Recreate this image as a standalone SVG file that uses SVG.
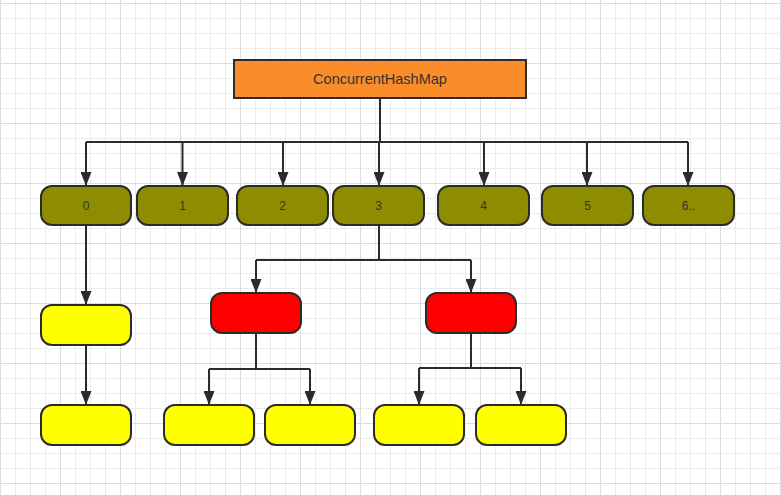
<svg xmlns="http://www.w3.org/2000/svg" width="781" height="495" viewBox="0 0 781 495">
<defs>
<pattern id="minor" width="15" height="15" patternUnits="userSpaceOnUse" x="0" y="3">
<path d="M0.5 0V15M0 0.5H15" stroke="#ebebeb" stroke-width="1" fill="none"/>
</pattern>
<pattern id="major" width="60" height="60" patternUnits="userSpaceOnUse" x="0" y="3">
<path d="M0.5 0V60M0 0.5H60" stroke="#dcdcdc" stroke-width="1" fill="none"/>
</pattern>
<marker id="arr" viewBox="0 0 14 11" refX="13" refY="5.5" markerWidth="14" markerHeight="11" markerUnits="userSpaceOnUse" orient="auto">
<path d="M0 0L14 5.5L0 11Z" fill="#2b2b2b"/>
</marker>
<style>
.n rect{stroke:#2b2b2b;stroke-width:2}
.olive rect{fill:#8e8c00}
.red rect{fill:#ff0000}
.yel rect{fill:#ffff00}
text{font-family:"Liberation Sans",Arial,sans-serif;font-size:12px;fill:#333;text-anchor:middle;dominant-baseline:central}
#connectors path{stroke:#2b2b2b;stroke-width:2;fill:none}
#connectors .a{marker-end:url(#arr)}
</style>
</defs>
<rect width="781" height="495" fill="#fff"/>
<rect width="781" height="495" fill="url(#minor)"/>
<rect width="781" height="495" fill="url(#major)"/>

<g id="connectors">
<path d="M380 98V142"/>
<path d="M86 142H688"/>
<path class="a" d="M86 142V185"/>
<path class="a" d="M182.5 142V185"/>
<path class="a" d="M283 142V185"/>
<path class="a" d="M379 142V185"/>
<path class="a" d="M484 142V185"/>
<path class="a" d="M587 142V185"/>
<path class="a" d="M688 142V185"/>
<path class="a" d="M86 225V304"/>
<path class="a" d="M86 345V404"/>
<path d="M379 225V260M256 260H471"/>
<path class="a" d="M256 260V292"/>
<path class="a" d="M471 260V292"/>
<path d="M256 333V369M209 369H310"/>
<path class="a" d="M209 369V404"/>
<path class="a" d="M310 369V404"/>
<path d="M471 333V368M419 368H521"/>
<path class="a" d="M419 368V404"/>
<path class="a" d="M521 368V404"/>
</g>

<g id="root" class="n"><rect x="234" y="60" width="292" height="38" fill="#fb8c2a"/><text x="380" y="79" style="font-size:14.5px">ConcurrentHashMap</text></g>

<g id="b0" class="n olive"><rect x="41" y="186" width="90" height="39" rx="11"/><text x="86" y="206">0</text></g>
<g id="b1" class="n olive"><rect x="137" y="186" width="91" height="39" rx="11"/><text x="182.5" y="206">1</text></g>
<g id="b2" class="n olive"><rect x="237" y="186" width="91" height="39" rx="11"/><text x="282.5" y="206">2</text></g>
<g id="b3" class="n olive"><rect x="333" y="186" width="91" height="39" rx="11"/><text x="378.5" y="206">3</text></g>
<g id="b4" class="n olive"><rect x="438" y="186" width="91" height="39" rx="11"/><text x="483.5" y="206">4</text></g>
<g id="b5" class="n olive"><rect x="542" y="186" width="91" height="39" rx="11"/><text x="587.5" y="206">5</text></g>
<g id="b6" class="n olive"><rect x="643" y="186" width="91" height="39" rx="11"/><text x="688.5" y="206">6..</text></g>

<g id="y0a" class="n yel"><rect x="41" y="305" width="90" height="40" rx="11"/></g>
<g id="y0b" class="n yel"><rect x="41" y="405" width="90" height="40" rx="11"/></g>

<g id="r1" class="n red"><rect x="211" y="293" width="90" height="40" rx="11"/></g>
<g id="r2" class="n red"><rect x="426" y="293" width="90" height="40" rx="11"/></g>

<g id="y1a" class="n yel"><rect x="164" y="405" width="90" height="40" rx="11"/></g>
<g id="y1b" class="n yel"><rect x="265" y="405" width="90" height="40" rx="11"/></g>
<g id="y2a" class="n yel"><rect x="374" y="405" width="90" height="40" rx="11"/></g>
<g id="y2b" class="n yel"><rect x="476" y="405" width="90" height="40" rx="11"/></g>
</svg>
